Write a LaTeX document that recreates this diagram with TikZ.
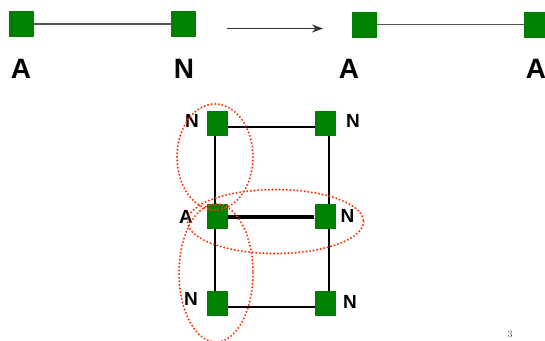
\documentclass[tikz,border=0pt]{standalone}
\usepackage{fontspec}
\setsansfont{Liberation Sans}
\usetikzlibrary{arrows.meta,backgrounds}

\definecolor{vertexgreen}{RGB}{0,128,0}
\definecolor{groupred}{RGB}{255,55,15}
\definecolor{edgegray}{RGB}{85,85,85}

\begin{document}
\begin{tikzpicture}[x=1pt,y=-1pt,>={Stealth[length=11pt,width=8pt]},
      bigvertex/.style={fill=vertexgreen,inner sep=0pt,
        minimum width=25pt,minimum height=26pt},
      vertex/.style={fill=vertexgreen,inner sep=0pt,
        minimum width=21pt,minimum height=25pt},
      biglabel/.style={font=\sffamily\bfseries\fontsize{28}{30}\selectfont,inner sep=0pt},
      label/.style={font=\sffamily\bfseries\fontsize{19}{21}\selectfont,inner sep=0pt},
      link/.style={draw=black,line width=2.7pt},
      group/.style={draw=groupred,line width=2.3pt,line cap=round,
        dash pattern=on 0pt off 3.6pt}]
      \useasboundingbox (0,0) rectangle (545,340);
      % top row: before and after
      \node[bigvertex] (lefta) at (21,24) {};
      \node[bigvertex] (leftn) at (183.5,24) {};
      \node[bigvertex] (righta) at (364.5,24.5) {};
      \node[bigvertex] (rightb) at (536.5,24.5) {};
      \node[biglabel] at (21,69) {A};
      \node[biglabel] at (184,69) {N};
      \node[biglabel] at (349,69) {A};
      \node[biglabel] at (536,69) {A};
      \coordinate (arrowfrom) at (227,28.5);
      \coordinate (arrowto) at (323,28.5);
      \begin{pgfonlayer}{background}
        \draw[edgegray,line width=1.8pt] (lefta) -- (leftn);
        \draw[edgegray,line width=1.8pt] (righta) -- (rightb);
      \end{pgfonlayer}
      \draw[->,line width=1.6pt,black!80] (arrowfrom) -- (arrowto);
      % grid of six vertices
      \node[vertex] (nw) at (217.5,123) {};
      \node[vertex] (ne) at (325,123) {};
      \node[vertex] (aw) at (217.5,216.5) {};
      \node[vertex] (ae) at (325,216.5) {};
      \node[vertex] (sw) at (217.5,303.5) {};
      \node[vertex] (se) at (325,303.5) {};
      \node[label] at (192,121) {N};
      \node[label] at (353,121) {N};
      \node[label] at (186,216.5) {A};
      \node[label] at (347.5,216) {N};
      \node[label] at (191,299) {N};
      \node[label] at (350,301.5) {N};
      \begin{pgfonlayer}{background}
        \draw[link] ([yshift=-4pt]nw.center) -- ([yshift=-4pt]ne.center);
        \draw[link,line width=4pt] (aw) -- (ae);
        \draw[link] ([yshift=-3.5pt]sw.center) -- ([yshift=-3.5pt]se.center);
        \draw[link] ([xshift=-2.5pt]nw.center) -- ([xshift=-2.5pt]sw.center);
        \draw[link] ([xshift=4pt]ne.center) -- ([xshift=4pt]se.center);
      \end{pgfonlayer}
      % dotted groups
      \draw[group] (215,157) ellipse [x radius=38,y radius=53];
      \draw[group] (275.5,221.5) ellipse [x radius=88,y radius=32];
      \draw[group] (216,273) ellipse [x radius=37,y radius=69];
      \node[font=\fontsize{10}{11}\selectfont,text=black!70] (page) at (510,334) {3};
    \end{tikzpicture}
\end{document}
